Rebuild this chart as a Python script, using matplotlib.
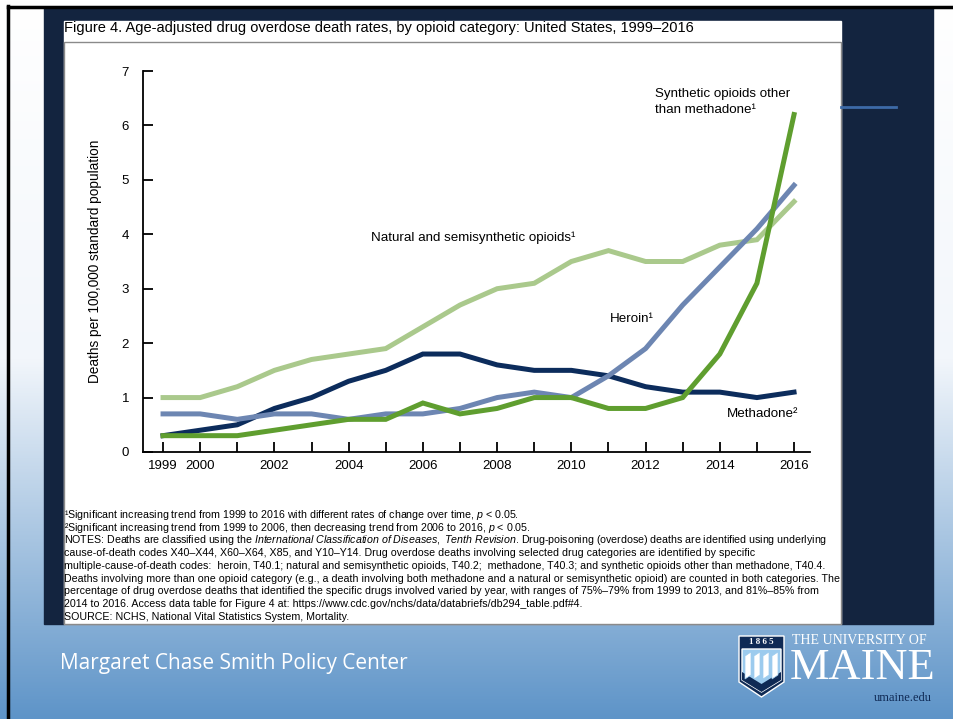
import numpy as np
import matplotlib
matplotlib.use("Agg")
import matplotlib.pyplot as plt
from matplotlib.patches import Polygon, Rectangle
from matplotlib.colors import LinearSegmentedColormap

# data (deaths per 100,000)
years = list(range(1999, 2017))
natural = [1.0, 1.0, 1.2, 1.5, 1.7, 1.8, 1.9, 2.3, 2.7, 3.0, 3.1, 3.5, 3.7, 3.5, 3.5, 3.8, 3.9, 4.6]
methadone = [0.3, 0.4, 0.5, 0.8, 1.0, 1.3, 1.5, 1.8, 1.8, 1.6, 1.5, 1.5, 1.4, 1.2, 1.1, 1.1, 1.0, 1.1]
heroin = [0.7, 0.7, 0.6, 0.7, 0.7, 0.6, 0.7, 0.7, 0.8, 1.0, 1.1, 1.0, 1.4, 1.9, 2.7, 3.4, 4.1, 4.9]
synthetic = [0.3, 0.3, 0.3, 0.4, 0.5, 0.6, 0.6, 0.9, 0.7, 0.8, 1.0, 1.0, 0.8, 0.8, 1.0, 1.8, 3.1, 6.2]
xtick_labels = ["1999", "2000", "", "2002", "", "2004", "", "2006", "", "2008", "",
                "2010", "", "2012", "", "2014", "", "2016"]
yticks = [0, 1, 2, 3, 4, 5, 6, 7]

title = "Figure 4. Age-adjusted drug overdose death rates, by opioid category: United States, 1999\u20132016"
notes = [
    "\u00b9Significant increasing trend from 1999 to 2016 with different rates of change over time, $\\it{p}$ < 0.05.",
    "\u00b2Significant increasing trend from 1999 to 2006, then decreasing trend from 2006 to 2016, $\\it{p}$ < 0.05.",
    "NOTES: Deaths are classified using the $\\it{International\\ Classification\\ of\\ Diseases,\\ Tenth\\ Revision}$. Drug-poisoning (overdose) deaths are identified using underlying",
    "cause-of-death codes X40\u2013X44, X60\u2013X64, X85, and Y10\u2013Y14. Drug overdose deaths involving selected drug categories are identified by specific",
    "multiple-cause-of-death codes:  heroin, T40.1; natural and semisynthetic opioids, T40.2;  methadone, T40.3; and synthetic opioids other than methadone, T40.4.",
    "Deaths involving more than one opioid category (e.g., a death involving both methadone and a natural or semisynthetic opioid) are counted in both categories. The",
    "percentage of drug overdose deaths that identified the specific drugs involved varied by year, with ranges of 75%\u201379% from 1999 to 2013, and 81%\u201385% from",
    "2014 to 2016. Access data table for Figure 4 at: https://www.cdc.gov/nchs/data/databriefs/db294_table.pdf#4.",
    "SOURCE: NCHS, National Vital Statistics System, Mortality.",
]

sans = ["Liberation Sans", "DejaVu Sans"]
plt.rcParams["font.family"] = sans
plt.rcParams["mathtext.fontset"] = "custom"
plt.rcParams["mathtext.rm"] = "Liberation Sans"
plt.rcParams["mathtext.it"] = "Liberation Sans:italic"

W, H = 954, 719
fig = plt.figure(figsize=(W / 100, H / 100), dpi=100)

# slide background in pixel coordinates
bg = fig.add_axes([0, 0, 1, 1])
bg.set_xlim(0, W)
bg.set_ylim(H, 0)
bg.axis("off")
grad = LinearSegmentedColormap.from_list("g", ["#ffffff", "#f2f6fb", "#5e94c8"], N=256)
bg.imshow(np.linspace(0, 1, 256)[:, None], cmap=grad, aspect="auto", extent=[0, W, H, 0])
bg.plot([8, 8], [6, H], color="black", lw=2.5)
bg.plot([8, W], [7, 7], color="black", lw=2.5)
bg.add_patch(Rectangle((44, 8), 889, 616, color="#13243f"))
bg.add_patch(Rectangle((64, 21), 777, 603, color="white"))
bg.add_patch(Rectangle((64.5, 42), 776.5, 582, fill=False, ec="#8a8a8a", lw=1))
bg.plot([841, 896], [107, 107], color="#3d6aa7", lw=2)

bg.text(64, 28, title, fontsize=10.5, va="center", ha="left")
for i, line in enumerate(notes):
    bg.text(64, 515 + 12.7 * i, line, fontsize=7.65, va="center", ha="left")

bg.text(60, 664, "Margaret Chase Smith Policy Center", fontsize=15, color="white",
        family=["Open Sans", "DejaVu Sans"], va="center", ha="left")

# university logo
navy = "#0f2a55"
bg.add_patch(Polygon([(739, 636), (784, 636), (784, 682), (761.5, 697), (739, 682)],
                     closed=True, fc=navy, ec="white", lw=1))
bg.add_patch(Polygon([(742, 649), (781, 649), (781, 680), (761.5, 692), (742, 680)],
                     closed=True, fc="#9ccbee", ec="white", lw=1))
bg.add_patch(Polygon([(742, 672), (761.5, 684), (781, 672), (781, 680), (761.5, 692), (742, 680)],
                     closed=True, fc=navy, ec="none"))
for x0 in [745, 754, 763, 772]:
    bg.add_patch(Polygon([(x0, 656), (x0 + 6, 652), (x0 + 6, 675), (x0, 679)],
                         closed=True, fc="white", ec="#9ccbee", lw=0.5))
bg.text(761.5, 642.5, "1 8 6 5", fontsize=6.5, color="white", family="Liberation Serif",
        weight="bold", ha="center", va="center")
bg.text(792, 641, "THE UNIVERSITY OF", fontsize=10, color="white", family="Liberation Serif",
        ha="left", va="center")
bg.text(790, 668, "MAINE", fontsize=32, color="white", family="Liberation Serif",
        ha="left", va="center")
bg.text(932, 698, "umaine.edu", fontsize=9, color=navy, family="Liberation Serif",
        ha="right", va="center")

# chart axes
ax = fig.add_axes([143 / W, 1 - 452 / H, 667 / W, 381 / H])
ax.patch.set_alpha(0)
lw = 3.6
ax.plot(years, natural, color="#aac98c", lw=lw, solid_joinstyle="miter")
ax.plot(years, methadone, color="#0c2c5c", lw=lw, solid_joinstyle="miter")
ax.plot(years, heroin, color="#6d86b2", lw=lw, solid_joinstyle="miter")
ax.plot(years, synthetic, color="#5f9e2f", lw=lw, solid_joinstyle="miter")

ax.set_xlim(1998.46, 2016.43)
ax.set_ylim(0, 7)
ax.set_xticks(years)
ax.set_xticklabels(xtick_labels)
ax.set_yticks(yticks)
for s in ["top", "right"]:
    ax.spines[s].set_visible(False)
for s in ["left", "bottom"]:
    ax.spines[s].set_linewidth(1.3)
ax.tick_params(direction="in", length=7, width=1.3, labelsize=9.5, pad=6)
ax.tick_params(axis="y", pad=10)
ax.set_ylabel("Deaths per 100,000 standard population", fontsize=9.8, labelpad=14)

lab = dict(fontsize=9.6, ha="left")
ax.text(2012.26, 6.68, "Synthetic opioids other\nthan methadone\u00b9", va="top", linespacing=1.45, **lab)
ax.text(2004.6, 3.93, "Natural and semisynthetic opioids\u00b9", va="center", **lab)
ax.text(2011.05, 2.44, "Heroin\u00b9", va="center", **lab)
ax.text(2014.2, 0.70, "Methadone\u00b2", va="center", **lab)

fig.savefig("out.png", dpi=100)
